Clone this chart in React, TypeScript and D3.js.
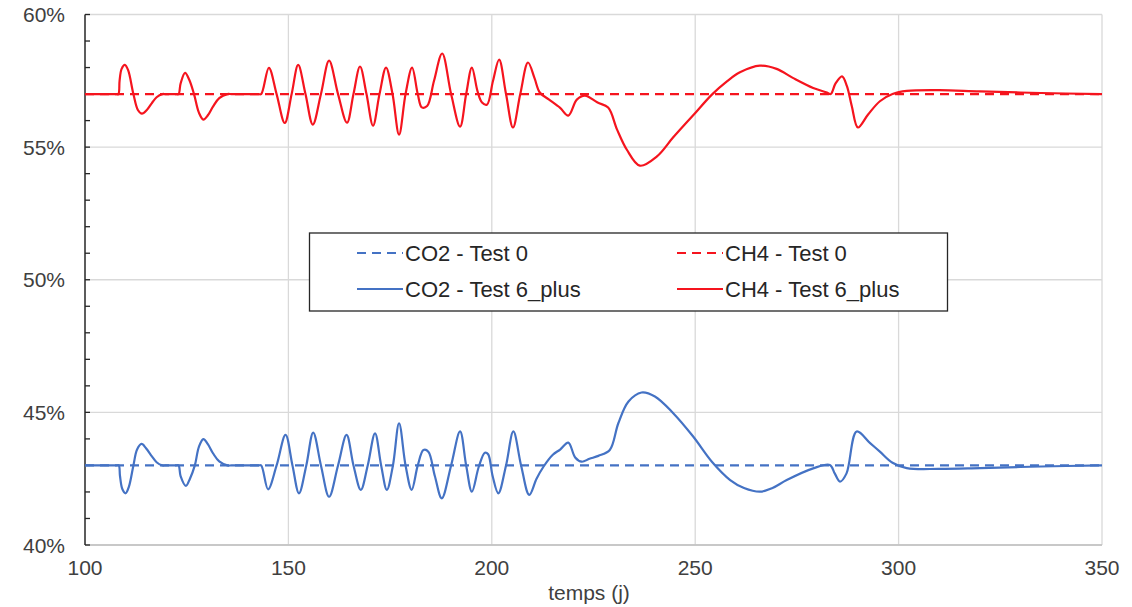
import React from "react";
import * as d3 from "d3";

// ---- Data ----
const xTicks = [100, 150, 200, 250, 300, 350];
const yTicks = [0.4, 0.45, 0.5, 0.55, 0.6];
const yMinorTicks = d3.range(40, 61, 1).map((v) => v / 100);

const test0Days = [100, 350];
const co2Test0 = [43, 43];
const ch4Test0 = [57, 57];

const ch4Days = [
  100, 104, 107.6, 108.2, 108.5, 109.0, 109.8, 110.6, 111.9, 113.0, 114.0, 115.2, 116.4, 117.6, 119, 119.8,
  122.4, 123.0, 123.5, 124.6, 125.6, 126.8, 128, 129.1, 130.2, 131.5, 133, 135, 136,
  139, 142.6, 143.3, 145.2, 147.1, 149.1, 150.8, 152.4, 154.2, 156.0, 158, 160, 162.2, 164.4, 166,
  167.6, 169.2, 170.8, 172.4, 174.0, 175.6, 177.2, 178.8, 180.4, 181.8, 182.8, 184.1,
  185.8, 187.8, 190, 192.2, 193.7, 195.1, 196.5, 197.6, 198.8, 200.3, 201.8, 203.5,
  205.2, 207, 208.9, 210.5, 211.8, 214, 216.8, 218.8, 220.9, 222.9, 226, 228.6, 230.8,
  233.2, 236.4, 240.6, 244.5, 249.5, 254.1, 257.8, 261, 265.9, 270, 274, 279, 282.4,
  283.3, 284.5, 286.1, 287.3, 288.5, 290, 292.5, 295.4, 298.5, 302, 310, 320, 335, 350,
];
const ch4Values = [
  57.0, 57.0, 57.0, 57.0, 57.5, 57.95, 58.1, 57.9, 57.0, 56.4, 56.26, 56.4, 56.65, 56.88, 57.0, 57.0,
  57.0, 57.0, 57.4, 57.8, 57.55, 57.0, 56.3, 56.04, 56.2, 56.54, 56.85, 57.0, 57.0,
  57.0, 57.0, 57.0, 57.99, 57.0, 55.91, 57.0, 58.1, 57.0, 55.85, 57.0, 58.26, 57.0, 55.92, 57.0,
  58.04, 57.0, 55.81, 57.0, 58.0, 57.0, 55.47, 57.0, 58.0, 57.0, 56.5, 56.55,
  57.5, 58.53, 57.0, 55.77, 57.0, 58.0, 57.1, 56.68, 56.6, 57.5, 58.3, 57.0,
  55.74, 57.0, 58.19, 57.6, 57.06, 56.8, 56.48, 56.19, 56.79, 56.94, 56.68, 56.49, 55.66,
  54.9, 54.3, 54.65, 55.35, 56.2, 56.98, 57.48, 57.82, 58.07, 57.95, 57.61, 57.23, 57.06,
  57.0, 57.4, 57.67, 57.3, 56.54, 55.74, 56.23, 56.73, 57.0, 57.12, 57.15, 57.1, 57.04, 57.0,
];

const co2Days = [
  100, 104, 107.7, 108.3, 108.6, 109.2, 110, 110.8, 111.9, 112.8, 113.9, 115, 116.4, 117.6, 119, 119.8,
  122.4, 123.0, 123.5, 124.8, 125.8, 127, 128, 129.1, 130.2, 131.5, 133, 135, 136,
  139, 142.6, 143.3, 145, 147.1, 149.3, 151, 152.6, 154.4, 156.1, 158, 160, 162.2, 164.3, 166,
  167.8, 169.5, 171.3, 172.8, 174.2, 175.7, 177.2, 178.8, 180.3, 181.8, 183.2, 184.4,
  186, 187.7, 190, 192.2, 193.7, 195.1, 196.8, 198.3, 199.1, 200.2, 201.6, 203.5,
  205.3, 207.2, 209.2, 211, 212.7, 215, 216.8, 218.8, 220.5, 222.1, 224, 226.2, 229,
  231.1, 233.6, 236.8, 240.1, 244.6, 249.5, 254.1, 258.6, 262, 266, 269, 272.5, 279,
  283.1, 284.3, 285.6, 287.2, 289.7, 293, 295.4, 298.5, 302, 310, 320, 335, 350,
];
const co2Values = [
  43.0, 43.0, 43.0, 43.0, 42.6, 42.1, 41.95, 42.2, 43.0, 43.6, 43.81, 43.65, 43.35, 43.12, 43.0, 43.0,
  43.0, 43.0, 42.6, 42.23, 42.5, 43.0, 43.7, 43.99, 43.8, 43.45, 43.15, 43.0, 43.0,
  43.0, 43.0, 43.0, 42.1, 43.0, 44.15, 43.0, 41.95, 43.0, 44.24, 43.0, 41.82, 43.0, 44.15, 43.0,
  42.08, 43.0, 44.21, 43.0, 42.08, 43.0, 44.59, 43.0, 42.08, 43.0, 43.58, 43.52,
  42.6, 41.76, 43.0, 44.28, 43.0, 42.01, 42.95, 43.48, 43.42, 42.6, 41.95, 43.0,
  44.28, 43.0, 41.89, 42.5, 42.95, 43.4, 43.6, 43.86, 43.3, 43.14, 43.25, 43.36, 43.58,
  44.59, 45.41, 45.75, 45.6, 44.97, 44.09, 43.14, 42.45, 42.15, 42.01, 42.15, 42.45, 42.89,
  43.02, 42.7, 42.39, 42.7, 44.28, 43.84, 43.52, 43.1, 42.9, 42.87, 42.9, 42.96, 43.0,
];

const legendLabels = [
  "CO2 - Test 0",
  "CH4 - Test 0",
  "CO2 - Test 6_plus",
  "CH4 - Test 6_plus",
];

const BLUE = "#4472C4";
const RED = "#F5141E";
const FONT = "'Liberation Sans', Arial, sans-serif";
const DASH = "9 6";

export default function App() {
  const left = 85;
  const right = 1102;
  const top = 14.5;
  const bottom = 545;
  const x = d3.scaleLinear().domain([100, 350]).range([left, right]);
  const y = d3.scaleLinear().domain([0.4, 0.6]).range([bottom, top]);

  const line = d3
    .line<[number, number]>()
    .x((d) => x(d[0]))
    .y((d) => y(d[1] / 100))
    .curve(d3.curveCatmullRom.alpha(0.5));

  const zip = (a: number[], b: number[]) => a.map((v, i) => [v, b[i]] as [number, number]);

  const series = [
    { key: "co2t0", pts: zip(test0Days, co2Test0), color: BLUE, dash: DASH },
    { key: "ch4t0", pts: zip(test0Days, ch4Test0), color: RED, dash: DASH },
    { key: "co2t6", pts: zip(co2Days, co2Values), color: BLUE, dash: undefined },
    { key: "ch4t6", pts: zip(ch4Days, ch4Values), color: RED, dash: undefined },
  ];

  const legendItems = [
    { label: legendLabels[0], color: BLUE, dash: DASH, lx: 357, ly: 253 },
    { label: legendLabels[1], color: RED, dash: DASH, lx: 677, ly: 253 },
    { label: legendLabels[2], color: BLUE, dash: undefined, lx: 357, ly: 289 },
    { label: legendLabels[3], color: RED, dash: undefined, lx: 677, ly: 289 },
  ];

  return (
    <svg
      width={1132}
      height={607}
      style={{ position: "absolute", left: 0, top: 0, background: "#fff" }}
      fontFamily={FONT}
    >
      {yTicks.map((t) => (
        <line key={"gy" + t} x1={left} x2={right} y1={y(t)} y2={y(t)} stroke="#D9D9D9" strokeWidth={1.3} />
      ))}
      {xTicks.slice(1).map((t) => (
        <line key={"gx" + t} x1={x(t)} x2={x(t)} y1={top} y2={bottom} stroke="#D9D9D9" strokeWidth={1.3} />
      ))}
      <line x1={left} x2={right} y1={bottom} y2={bottom} stroke="#BFBFBF" strokeWidth={1.3} />
      <line x1={left} x2={left} y1={top} y2={bottom} stroke="#262626" strokeWidth={1.5} />
      {yMinorTicks.map((t) => (
        <line key={"yt" + t} x1={left} x2={left + 5} y1={y(t)} y2={y(t)} stroke="#262626" strokeWidth={1.3} />
      ))}
      {series.map((s) => (
        <path
          key={s.key}
          d={line(s.pts) || ""}
          fill="none"
          stroke={s.color}
          strokeWidth={2.2}
          strokeDasharray={s.dash}
        />
      ))}
      {yTicks.map((t) => (
        <text
          key={"yl" + t}
          x={65}
          y={y(t)}
          dy="0.36em"
          textAnchor="end"
          fontSize={21}
          fill="#404040"
        >
          {d3.format(".0%")(t)}
        </text>
      ))}
      {xTicks.map((t) => (
        <text key={"xl" + t} x={x(t)} y={575} textAnchor="middle" fontSize={21} fill="#404040">
          {t}
        </text>
      ))}
      <text x={589} y={600} textAnchor="middle" fontSize={21} fill="#404040">
        temps (j)
      </text>
      <rect x={309.5} y={233} width={638} height={78} fill="#fff" stroke="#262626" strokeWidth={1.3} />
      {legendItems.map((it) => (
        <g key={it.label}>
          <line
            x1={it.lx}
            x2={it.lx + 46}
            y1={it.ly}
            y2={it.ly}
            stroke={it.color}
            strokeWidth={2.2}
            strokeDasharray={it.dash}
          />
          <text x={it.lx + 48} y={it.ly} dy="0.36em" fontSize={22} fill="#262626">
            {it.label}
          </text>
        </g>
      ))}
    </svg>
  );
}
